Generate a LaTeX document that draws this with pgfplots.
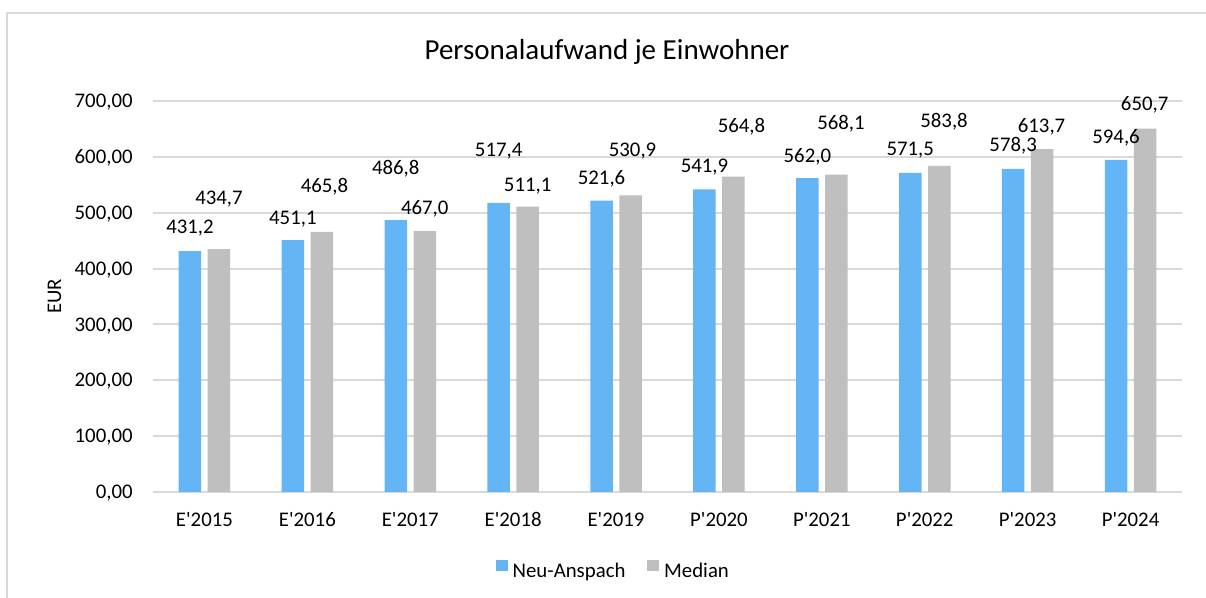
\documentclass[border=0pt]{standalone}
\usepackage{fontspec}
\setmainfont{Carlito}
\usepackage{pgfplots}
\usepackage{pgfplotstable}
\pgfplotsset{compat=1.18}
\definecolor{blueN}{RGB}{100,181,246}
\definecolor{grayM}{RGB}{191,191,191}
\definecolor{gridgray}{RGB}{217,217,217}
\definecolor{framegray}{RGB}{217,217,217}

\pgfplotstableread{
x y dx dy
0 431.2 0 8.95
1 451.1 0 7.95
2 486.8 0 22.7
3 517.4 0 23.2
4 521.6 0 7.95
5 541.9 0 8.2
6 562.0 0 7.7
7 571.5 0 8.55
8 578.3 0 8.55
9 594.6 0 8.3
}\neuanspach

\pgfplotstableread{
x y dx dy
0 434.7 0 22.2
1 465.8 1.3 19.45
2 467.0 0 8.55
3 511.1 0 7.7
4 530.9 1 19.45
5 564.8 4 22.0
6 568.1 2.3 22.55
7 583.8 2.4 18.95
8 613.7 -0.3 8.5
9 650.7 -0.2 8.8
}\median

\newcommand{\tfont}{\fontsize{10.4}{12.5}\selectfont}

\begin{document}
\begin{tikzpicture}
\useasboundingbox (0,0) rectangle (603pt,299pt);
\fill[white] (0,0) rectangle (603pt,299pt);
\draw[framegray, line width=1pt] (3.5pt,0pt) -- (3.5pt,292.5pt) -- (603pt,292.5pt);
\begin{axis}[
  at={(76.5pt,53pt)}, anchor=south west,
  scale only axis, width=514.5pt, height=195.5pt,
  xmin=-0.5, xmax=9.5, ymin=0, ymax=700,
  ytick={0,100,...,700},
  xtick={0,...,9},
  xticklabels={E\textquotesingle 2015,E\textquotesingle 2016,E\textquotesingle 2017,E\textquotesingle 2018,E\textquotesingle 2019,P\textquotesingle 2020,P\textquotesingle 2021,P\textquotesingle 2022,P\textquotesingle 2023,P\textquotesingle 2024},
  axis line style={draw=none},
  major tick length=0pt,
  ymajorgrids, grid style={color=gridgray, line width=1pt},
  /pgf/number format/assume math mode=true,
  tick label style={font=\tfont},
  yticklabel style={anchor=base east, inner sep=0pt, xshift=-10pt, yshift=-3.3pt,
     /pgf/number format/.cd, fixed, fixed zerofill, precision=2, use comma, 1000 sep={}},
  xticklabel style={anchor=base, inner sep=0pt, yshift=-17.35pt},
  ybar, bar width=11.25pt,
  nodes near coords,
  nodes near coords style={font=\tfont, anchor=base, inner sep=0pt, xshift=\myDX pt, yshift=\myDY pt,
     /pgf/number format/.cd, fixed, fixed zerofill, precision=1, use comma, 1000 sep={}},
  visualization depends on={\thisrow{dx} \as \myDX},
  visualization depends on={\thisrow{dy} \as \myDY},
  legend style={at={(0.4465,-0.1995)}, anchor=center, draw=none, fill=none,
     font=\tfont, legend columns=-1, inner sep=0pt, nodes={inner sep=0pt},
     /tikz/every odd column/.append style={column sep=2.5pt},
     /tikz/every even column/.append style={column sep=11pt}},
  legend image code/.code={\fill[#1] (0pt,0.15pt) rectangle (5.85pt,6pt);},
]
\addplot[fill=blueN, draw=none, bar shift=-7.25pt] table[x=x,y=y] {\neuanspach};
\addlegendentry{Neu-Anspach}
\addplot[fill=grayM, draw=none, bar shift=7.25pt] table[x=x,y=y] {\median};
\addlegendentry{Median}
\end{axis}
\node[anchor=base, font=\fontsize{14.5}{17}\selectfont] at (303.5pt,269pt) {Personalaufwand je Einwohner};
\node[rotate=90, anchor=center, font=\tfont, inner sep=0pt] at (27.25pt,150.75pt) {EUR};
\end{tikzpicture}
\end{document}
